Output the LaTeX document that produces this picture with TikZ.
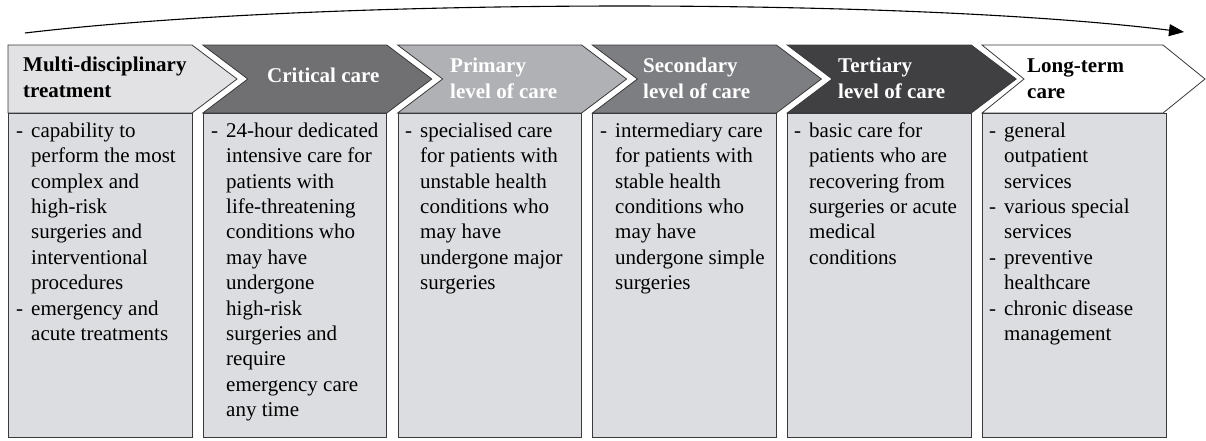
\documentclass[tikz,border=0pt]{standalone}
\usepackage{fontspec}
\setmainfont{Liberation Serif}
\usetikzlibrary{arrows.meta}

\definecolor{hdrA}{HTML}{E2E2E4}
\definecolor{hdrB}{HTML}{707073}
\definecolor{hdrC}{HTML}{B0B1B4}
\definecolor{hdrD}{HTML}{7D7E81}
\definecolor{hdrE}{HTML}{404043}
\definecolor{bodyfill}{HTML}{DCDDE0}
\definecolor{edgecol}{HTML}{3A3A3C}

% list helpers: bullet line and continuation line
\newcommand{\bitem}[1]{\makebox[15pt][l]{-}#1}
\newcommand{\bcont}[1]{\hspace*{15pt}#1}

\tikzset{
  chev/.style={draw=edgecol, line width=0.8pt, line join=miter},
  bodybox/.style={draw=edgecol, line width=1pt, fill=bodyfill, rectangle,
    inner sep=0pt, anchor=north west, minimum width=183.5pt, minimum height=324pt},
  bodytext/.style={anchor=north west, inner sep=0pt, align=left,
    font=\fontsize{21}{25.4}\selectfont},
  hdrtext/.style={anchor=north west, inner sep=0pt, align=left,
    font=\fontsize{21}{26}\selectfont\bfseries},
}

\begin{document}
\begin{tikzpicture}[x=1pt,y=-1pt]
\useasboundingbox (0,0) rectangle (1206,440);

% progression arrow across the top
\coordinate (arrS) at (25,33);
\coordinate (arrE) at (1184,32);
\draw[line width=1.1pt, -{Triangle[length=15pt,width=12pt]}]
  (arrS) .. controls (320,-2) and (900,-3) .. (arrE);

% header chevrons
\path[chev, fill=hdrA] (8,45) -- (192,45) -- (237,79) -- (192,113) -- (8,113) -- cycle;
\path[chev, fill=hdrB] (202.8,45) -- (386.8,45) -- (431.8,79) -- (386.8,113) -- (202.8,113) -- (247.8,79) -- cycle;
\path[chev, fill=hdrC] (397.6,45) -- (581.6,45) -- (626.6,79) -- (581.6,113) -- (397.6,113) -- (442.6,79) -- cycle;
\path[chev, fill=hdrD] (592.4,45) -- (776.4,45) -- (821.4,79) -- (776.4,113) -- (592.4,113) -- (637.4,79) -- cycle;
\path[chev, fill=hdrE] (787.2,45) -- (971.2,45) -- (1016.2,79) -- (971.2,113) -- (787.2,113) -- (832.2,79) -- cycle;
\path[chev, fill=white] (982,45) -- (1163,45) -- (1205,79) -- (1163,113) -- (982,113) -- (1024,79) -- cycle;

% header labels
\node[hdrtext] (h1) at (23,55) {\rule{0pt}{16pt}Multi-disciplinary\\treatment};
\node[hdrtext, text=white] (h2) at (267,66) {\rule{0pt}{16pt}Critical care};
\node[hdrtext, text=white] (h3) at (450,56) {\rule{0pt}{16pt}Primary\\level of care};
\node[hdrtext, text=white] (h4) at (643,56) {\rule{0pt}{16pt}Secondary\\level of care};
\node[hdrtext, text=white] (h5) at (838,56) {\rule{0pt}{16pt}Tertiary\\level of care};
\node[hdrtext] (h6) at (1027,56) {\rule{0pt}{16pt}Long-term\\care};

% description boxes
\node[bodybox] (b1) at (8,113) {};
\node[bodybox] (b2) at (202.8,113) {};
\node[bodybox] (b3) at (397.6,113) {};
\node[bodybox] (b4) at (592.4,113) {};
\node[bodybox] (b5) at (787.2,113) {};
\node[bodybox] (b6) at (982,113) {};

\node[bodytext] (t1) at (16,121) {\rule{0pt}{16pt}\bitem{capability to}\\
  \bcont{perform the most}\\ \bcont{complex and}\\ \bcont{high-risk}\\
  \bcont{surgeries and}\\ \bcont{interventional}\\ \bcont{procedures}\\
  \bitem{emergency and}\\ \bcont{acute treatments}};
\node[bodytext] (t2) at (211,121) {\rule{0pt}{16pt}\bitem{24-hour dedicated}\\
  \bcont{intensive care for}\\ \bcont{patients with}\\ \bcont{life-threatening}\\
  \bcont{conditions who}\\ \bcont{may have}\\ \bcont{undergone}\\
  \bcont{high-risk}\\ \bcont{surgeries and}\\ \bcont{require}\\
  \bcont{emergency care}\\ \bcont{any time}};
\node[bodytext] (t3) at (405,121) {\rule{0pt}{16pt}\bitem{specialised care}\\
  \bcont{for patients with}\\ \bcont{unstable health}\\ \bcont{conditions who}\\
  \bcont{may have}\\ \bcont{undergone major}\\ \bcont{surgeries}};
\node[bodytext] (t4) at (600,121) {\rule{0pt}{16pt}\bitem{intermediary care}\\
  \bcont{for patients with}\\ \bcont{stable health}\\ \bcont{conditions who}\\
  \bcont{may have}\\ \bcont{undergone simple}\\ \bcont{surgeries}};
\node[bodytext] (t5) at (794,121) {\rule{0pt}{16pt}\bitem{basic care for}\\
  \bcont{patients who are}\\ \bcont{recovering from}\\ \bcont{surgeries or acute}\\
  \bcont{medical}\\ \bcont{conditions}};
\node[bodytext] (t6) at (989,121) {\rule{0pt}{16pt}\bitem{general}\\
  \bcont{outpatient}\\ \bcont{services}\\ \bitem{various special}\\
  \bcont{services}\\ \bitem{preventive}\\ \bcont{healthcare}\\
  \bitem{chronic disease}\\ \bcont{management}};
\end{tikzpicture}
\end{document}
